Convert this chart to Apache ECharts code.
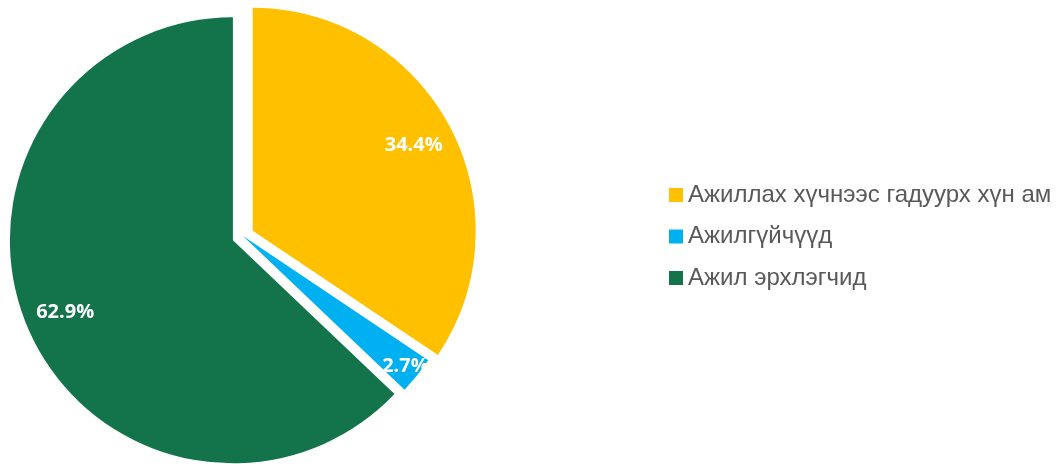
<!DOCTYPE html>
<html><head><meta charset="utf-8">
<script src="https://cdn.jsdelivr.net/npm/echarts@6/dist/echarts.min.js"></script>
<style>html,body{margin:0;padding:0;background:#fff}#c{width:1064px;height:464px}</style>
</head><body><div id="c"></div>
<script>
const categories = ['Ажиллах хүчнээс гадуурх хүн ам', 'Ажилгүйчүүд', 'Ажил эрхлэгчид'];
const values = [34.4, 2.7, 62.9];
const colors = ['#FFC000', '#00B0F0', '#13744B'];
const exploded = [true, false, true];

const chart = echarts.init(document.getElementById('c'), null, {renderer: 'canvas'});
const mkData = (transparent) => categories.map((n, i) => {
  const d = {name: n, value: values[i], selected: exploded[i],
    itemStyle: transparent ? {color: 'rgba(0,0,0,0)'} : {color: colors[i]}};
  if (transparent && i === 1) d.label = {offset: [20, 16]};
  return d;
});
chart.setOption({
  animation: false,
  legend: {
    orient: 'vertical', left: 669, top: 183, padding: 0,
    icon: 'rect', itemWidth: 14, itemHeight: 14, itemGap: 17.5,
    textStyle: {fontFamily: 'Liberation Sans, Arial, sans-serif', fontSize: 24, color: '#595959', lineHeight: 24},
    data: categories, selectedMode: false
  },
  series: [{
    type: 'pie', center: [243, 236], radius: [0, 223], startAngle: 90, clockwise: true,
    selectedMode: 'multiple', selectedOffset: 11, silent: true,
    label: {show: false}, labelLine: {show: false},
    data: mkData(false)
  }, {
    type: 'pie', center: [243, 236], radius: [136, 223], startAngle: 90, clockwise: true,
    selectedMode: 'multiple', selectedOffset: 11, silent: true,
    label: {show: true, position: 'inside', formatter: p => p.value.toFixed(1) + '%',
      fontFamily: 'Open Sans, sans-serif', fontWeight: 'bold', fontSize: 20, color: '#fff'},
    labelLine: {show: false},
    data: mkData(true)
  }]
});
</script></body></html>
